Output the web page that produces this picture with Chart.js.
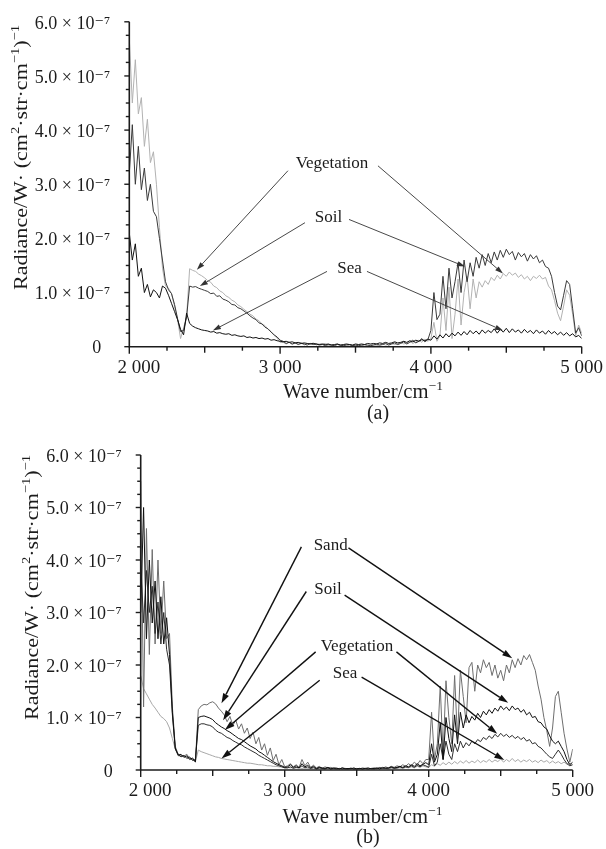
<!DOCTYPE html>
<html><head><meta charset="utf-8">
<script src="https://cdn.jsdelivr.net/npm/chart.js@4.4.1/dist/chart.umd.min.js"></script>
<style>
html,body{margin:0;padding:0;background:#fff;}
#wrapA{position:absolute;left:0;top:0;width:606px;height:424px;}
#wrapB{position:absolute;left:0;top:424px;width:606px;height:425px;}
canvas{display:block;}
</style></head><body>
<div id="wrapA"><canvas id="cA" width="606" height="424"></canvas></div>
<div id="wrapB"><canvas id="cB" width="606" height="425"></canvas></div>
<script>
// Wave numbers (cm^-1), sampled every 20 cm^-1 from 2000 to 5000
const WAVENUMBERS = Array.from({length:151},(_,i)=>2000+20*i);
const X_TICKS = [2000,3000,4000,5000];
// Radiance values in units of 1e-7 W/(cm2·str·cm-1)
// Panel (a)
const VEG_A = [5.7,4.5,5.3,4.3,4.6,3.7,4.2,3.4,3.6,3.0,2.2,1.45,1.12,
 1.08,0.98,0.75,0.5,0.15,0.35,0.55,
 1.44,1.41,1.39,1.34,1.31,1.27,1.22,1.19,1.12,1.09,1.03,1.0,0.94,0.91,0.86,0.83,0.77,0.74,0.69,0.65,0.6,0.57,0.51,0.48,0.42,0.39,0.32,0.28,0.21,0.16,0.08,
 0.08,0.05,0.09,0.04,0.07,0.06,0.08,0.03,0.06,0.05, 0.07,0.03,0.05,0.04,0.06,0.02,0.04,0.03,0.05,0.02, 0.03,0.04,0.02,0.03,0.02,0.04,0.02,0.03,0.02,0.03, 0.04,0.02,0.03,0.05,0.03,0.04,0.06,0.04,0.05,0.08, 0.05,0.07,0.1,0.06,0.09,0.12,0.08,0.14,0.1,
 0.15,0.45,0.1,0.2,0.9,0.3,1.1,0.15,0.6,1.25, 0.4,1.0,1.3,0.7,1.25,0.9,1.2,1.1,1.22,1.15, 1.28,1.22,1.32,1.25,1.35,1.3,1.38,1.32,1.36,1.28, 1.33,1.25,1.3,1.22,1.3,1.26,1.32,1.25,1.28,1.12, 1.05,0.85,0.62,0.48,0.75,1.05,0.95,0.6,0.2,0.4, 0.25];
const SOIL_A = [3.2,4.1,3.0,3.7,2.9,3.3,2.7,3.0,2.5,2.4,2.0,1.6,1.2,
 1.05,0.98,0.78,0.52,0.28,0.3,0.55,
 1.12,1.10,1.11,1.08,1.06,1.04,1.02,0.98,0.99,0.93,0.94,0.88,0.86,0.83,0.78,0.77,0.72,0.70,0.66,0.62,0.57,0.53,0.50,0.44,0.42,0.36,0.33,0.27,0.22,0.18,0.12,
 0.1,0.06,0.08,0.05,0.07,0.04,0.06,0.05,0.03,0.06, 0.04,0.05,0.03,0.04,0.02,0.04,0.03,0.02,0.04,0.03, 0.02,0.03,0.04,0.02,0.03,0.02,0.03,0.04,0.03,0.02, 0.03,0.05,0.03,0.04,0.06,0.03,0.05,0.07,0.04,0.06, 0.09,0.05,0.08,0.12,0.07,0.1,0.15,0.09,0.13,
 0.3,1.0,0.5,0.6,1.3,0.7,1.45,0.9,1.2,1.55, 1.0,1.6,1.2,1.55,1.3,1.65,1.45,1.7,1.5,1.72, 1.55,1.75,1.6,1.78,1.65,1.8,1.7,1.76,1.6,1.74, 1.66,1.72,1.58,1.7,1.62,1.68,1.55,1.6,1.48,1.45, 1.3,1.0,0.75,0.68,0.95,1.22,1.15,0.7,0.25,0.35, 0.2];
const SEA_A = [2.1,1.6,1.9,1.3,1.45,1.0,1.15,0.92,1.05,1.0,0.9,1.12,1.08,
 0.95,0.8,0.65,0.5,0.32,0.22,0.62,
 0.43,0.38,0.35,0.33,0.31,0.30,0.29,0.27,0.28,0.25,0.26,0.24,0.23,0.24,0.21,0.22,0.2,0.19,0.2,0.17,0.18,0.16,0.17,0.15,0.16,0.14,0.15,0.12,0.13,0.11,0.1,
 0.09,0.1,0.08,0.09,0.07,0.08,0.06,0.07,0.06,0.05, 0.06,0.05,0.04,0.05,0.04,0.05,0.03,0.04,0.05,0.03, 0.04,0.05,0.04,0.03,0.05,0.04,0.05,0.04,0.06,0.05, 0.06,0.05,0.07,0.06,0.08,0.06,0.07,0.09,0.07,0.08, 0.1,0.08,0.11,0.09,0.12,0.1,0.13,0.11,0.14,
 0.12,0.2,0.14,0.22,0.16,0.24,0.18,0.25,0.2,0.27, 0.21,0.28,0.22,0.3,0.24,0.29,0.23,0.31,0.25,0.3, 0.26,0.33,0.25,0.32,0.27,0.34,0.26,0.33,0.27,0.31, 0.25,0.32,0.26,0.3,0.24,0.31,0.25,0.29,0.23,0.3, 0.24,0.28,0.22,0.27,0.21,0.26,0.2,0.24,0.18,0.21, 0.15];
// Panel (b)
const SAND_B = [5.5,1.2,4.6,2.2,4.2,2.4,4.0,2.6,3.6,2.5,2.6,1.2,0.45,
 0.3,0.28,0.26,0.3,0.22,0.2,0.18,
 1.15,1.22,1.25,1.24,1.28,1.3,1.26,1.18,1.12,1.05,0.92,1.02,0.85,0.95,0.78,0.88,0.7,0.8,0.6,0.72,0.5,0.62,0.38,0.5,0.28,0.42,0.18,0.3,0.1,0.2,0.06,
 0.08,0.12,0.06,0.1,0.05,0.2,0.08,0.15,0.05,0.09, 0.04,0.07,0.03,0.06,0.04,0.05,0.03,0.04,0.02,0.04, 0.03,0.02,0.04,0.02,0.03,0.02,0.04,0.03,0.02,0.03, 0.04,0.02,0.05,0.03,0.06,0.04,0.07,0.05,0.08,0.06, 0.1,0.07,0.12,0.08,0.15,0.1,0.18,0.12,0.2,
 0.2,1.1,0.2,0.5,1.6,0.3,1.7,1.0,0.5,1.8, 0.6,1.9,1.4,0.9,1.95,2.05,1.5,2.0,1.85,2.1, 1.95,2.05,1.8,2.0,1.75,1.9,1.7,2.0,1.85,2.1, 1.95,2.12,2.0,2.18,2.1,2.2,2.05,1.9,1.6,1.35, 1.0,0.75,0.45,0.8,1.4,1.5,1.1,0.7,0.4,0.15, 0.4];
const SOIL_B = [3.0,5.0,2.5,4.0,2.8,3.6,2.5,3.3,2.4,2.9,2.2,1.1,0.42,
 0.28,0.3,0.24,0.27,0.2,0.23,0.15,
 1.0,1.02,1.03,1.01,0.99,0.96,0.9,0.86,0.82,0.79,0.75,0.72,0.68,0.64,0.6,0.58,0.54,0.5,0.46,0.43,0.4,0.35,0.32,0.28,0.24,0.2,0.16,0.13,0.1,0.08,0.05,
 0.06,0.1,0.05,0.08,0.04,0.12,0.06,0.09,0.04,0.07, 0.03,0.05,0.04,0.03,0.05,0.02,0.04,0.03,0.02,0.04, 0.02,0.03,0.02,0.04,0.02,0.03,0.02,0.03,0.04,0.02, 0.03,0.04,0.02,0.05,0.03,0.04,0.06,0.04,0.05,0.07, 0.05,0.08,0.06,0.1,0.07,0.12,0.08,0.11,0.14,
 0.1,0.5,0.15,0.3,0.9,0.2,1.0,0.6,0.35,1.05, 0.5,1.1,0.8,1.05,0.9,1.02,0.95,1.08,1.0,1.12, 1.05,1.15,1.08,1.18,1.12,1.22,1.15,1.2,1.13,1.22, 1.15,1.18,1.1,1.15,1.05,1.1,1.0,1.02,0.92,0.9, 0.82,0.78,0.65,0.55,0.5,0.55,0.45,0.35,0.2,0.1, 0.15];
const VEG_B = [4.0,2.8,3.8,3.0,3.5,2.6,3.2,2.4,3.0,2.3,2.0,1.05,0.4,
 0.3,0.25,0.28,0.22,0.25,0.18,0.2,
 0.85,0.88,0.88,0.86,0.85,0.82,0.76,0.72,0.7,0.66,0.62,0.6,0.56,0.53,0.5,0.48,0.44,0.41,0.38,0.35,0.32,0.28,0.25,0.22,0.19,0.16,0.13,0.1,0.08,0.06,0.04,
 0.04,0.06,0.03,0.05,0.04,0.08,0.04,0.06,0.03,0.05, 0.02,0.04,0.03,0.02,0.04,0.02,0.03,0.02,0.03,0.02, 0.03,0.02,0.03,0.02,0.02,0.03,0.02,0.03,0.02,0.03, 0.02,0.03,0.04,0.03,0.04,0.03,0.05,0.03,0.04,0.06, 0.04,0.06,0.05,0.08,0.05,0.09,0.06,0.1,0.08,
 0.05,0.3,0.08,0.15,0.5,0.2,0.55,0.3,0.2,0.5, 0.35,0.55,0.42,0.52,0.46,0.55,0.5,0.58,0.54,0.62, 0.58,0.65,0.6,0.68,0.63,0.7,0.64,0.68,0.62,0.66, 0.6,0.64,0.58,0.62,0.55,0.58,0.5,0.52,0.45,0.42, 0.36,0.3,0.25,0.22,0.3,0.38,0.3,0.2,0.12,0.08, 0.1];
const SEA_B = [1.8,1.55,1.45,1.35,1.25,1.18,1.1,1.02,0.98,0.92,0.8,0.6,0.4,
 0.27,0.26,0.28,0.24,0.22,0.2,0.16,
 0.38,0.35,0.33,0.31,0.29,0.27,0.25,0.24,0.22,0.21,0.2,0.19,0.18,0.17,0.16,0.15,0.14,0.13,0.13,0.12,0.11,0.1,0.1,0.09,0.08,0.08,0.07,0.07,0.06,0.06,0.05,
 0.05,0.04,0.05,0.04,0.04,0.03,0.04,0.03,0.03,0.03, 0.02,0.03,0.02,0.02,0.03,0.02,0.02,0.02,0.03,0.02, 0.02,0.02,0.03,0.02,0.02,0.02,0.03,0.02,0.02,0.03, 0.02,0.03,0.02,0.03,0.03,0.02,0.03,0.04,0.03,0.04, 0.03,0.05,0.04,0.06,0.04,0.07,0.05,0.08,0.06,
 0.05,0.1,0.07,0.12,0.09,0.14,0.1,0.15,0.11,0.16, 0.12,0.17,0.13,0.18,0.13,0.17,0.14,0.19,0.14,0.18, 0.15,0.2,0.15,0.19,0.16,0.21,0.15,0.2,0.16,0.22, 0.16,0.2,0.15,0.19,0.16,0.2,0.15,0.18,0.14,0.19, 0.15,0.18,0.13,0.17,0.13,0.16,0.12,0.15,0.11,0.13, 0.1];

// Annotations (positions in data units)
const ANNOT_A = [
 {text:'Vegetation', at:[3344,3.38], lines:[[[3052,3.25],[2448,1.42]], [[3649,3.34],[4478,1.35]]]},
 {text:'Soil', at:[3321,2.38], lines:[[[3165,2.29],[2468,1.12]], [[3457,2.35],[4226,1.48]]]},
 {text:'Sea', at:[3460,1.44], lines:[[[3311,1.39],[2554,0.30]], [[3576,1.39],[4478,0.30]]]}
];
const ANNOT_B = [
 {text:'Sand', at:[3319,4.27], lines:[[[3116,4.25],[2561,1.27]], [[3443,4.23],[4580,2.13]]]},
 {text:'Soil', at:[3301,3.43], lines:[[[3150,3.40],[2572,0.95]], [[3416,3.33],[4552,1.28]]]},
 {text:'Vegetation', at:[3502,2.35], lines:[[[3215,2.25],[2584,0.76]], [[3776,2.25],[4476,0.69]]]},
 {text:'Sea', at:[3419,1.84], lines:[[[3243,1.71],[2561,0.22]], [[3534,1.77],[4525,0.19]]]}
];

const FONT = "'Liberation Serif','DejaVu Serif',serif";
const INK = '#1c1c1c';

function pts(arr){ return arr.map((v,i)=>({x:WAVENUMBERS[i], y:v})); }

function drawRich(ctx, parts, size, targetW){
  const supSize = size*0.66, rise = size*0.42;
  let w = 0;
  const widths = parts.map(([t,s])=>{ctx.font = (s?supSize:size)+'px '+FONT; const m = ctx.measureText(t).width; w += m; return m;});
  const k = targetW ? targetW/w : 1;
  ctx.save();
  ctx.scale(k,1);
  let x = -w/2;
  ctx.textAlign='left'; ctx.textBaseline='alphabetic';
  parts.forEach(([t,s],i)=>{
    ctx.font = (s?supSize:size)+'px '+FONT;
    ctx.fillText(t, x, s? -rise : 0);
    x += widths[i];
  });
  ctx.restore();
}

function arrow(ctx, x0,y0,x1,y1, len, half){
  ctx.beginPath(); ctx.moveTo(x0,y0);
  const a = Math.atan2(y1-y0,x1-x0);
  const bx = x1 - len*Math.cos(a), by = y1 - len*Math.sin(a);
  ctx.lineTo(bx,by); ctx.stroke();
  ctx.beginPath();
  ctx.moveTo(x1,y1);
  ctx.lineTo(bx + half*Math.sin(a), by - half*Math.cos(a));
  ctx.lineTo(bx - half*Math.sin(a), by + half*Math.cos(a));
  ctx.closePath(); ctx.fill();
}

function makeChart(id, datasets, geom, annots, cap, arrowStyle){
  const deco = {
    id:'deco',
    afterDraw(chart){
      const ctx = chart.ctx, xs = chart.scales.x, ys = chart.scales.y;
      const L = xs.left, R = xs.right, B = ys.bottom, T = ys.top;
      ctx.save();
      ctx.strokeStyle = INK; ctx.fillStyle = INK;
      ctx.lineWidth = 1.6;
      ctx.beginPath(); ctx.moveTo(L, T); ctx.lineTo(L, B); ctx.lineTo(R, B); ctx.stroke();
      ctx.lineWidth = 1.4;
      for(let v=2000; v<=5000; v+=250){
        const p = xs.getPixelForValue(v);
        const len = v%1000===0 ? 7 : (v%500===0 ? 6 : 4);
        ctx.beginPath(); ctx.moveTo(p,B); ctx.lineTo(p,B+len); ctx.stroke();
      }
      for(let v=0; v<=6.001; v+=0.25){
        const p = ys.getPixelForValue(v);
        const len = Math.abs(v-Math.round(v))<1e-6 ? 5 : 3.5;
        ctx.beginPath(); ctx.moveTo(L,p); ctx.lineTo(L-len,p); ctx.stroke();
      }
      ctx.lineWidth = arrowStyle.w; ctx.strokeStyle = arrowStyle.c; ctx.fillStyle = arrowStyle.c;
      annots.forEach(a=>{
        a.lines.forEach(([s,t])=>{
          arrow(ctx, xs.getPixelForValue(s[0]), ys.getPixelForValue(s[1]), xs.getPixelForValue(t[0]), ys.getPixelForValue(t[1]), arrowStyle.len, arrowStyle.half);
        });
      });
      ctx.fillStyle = INK;
      ctx.font = '17px '+FONT; ctx.textAlign='center'; ctx.textBaseline='middle';
      annots.forEach(a=>{
        ctx.fillText(a.text, xs.getPixelForValue(a.at[0]), ys.getPixelForValue(a.at[1]));
      });
      ctx.save(); ctx.translate(geom.xtX, geom.xtY);
      drawRich(ctx, [['Wave number/cm',false],['\u22121',true]], 20, 160);
      ctx.restore();
      ctx.font = '20px '+FONT; ctx.textAlign='center'; ctx.textBaseline='alphabetic';
      ctx.fillText(cap, geom.capX, geom.capY);
      ctx.save(); ctx.translate(geom.ytX, geom.ytY); ctx.rotate(-Math.PI/2);
      drawRich(ctx, [['Radiance/W\u00b7 (cm',false],['2',true],['\u00b7str\u00b7cm',false],['\u22121',true],[')',false],['\u22121',true]], 19, 265);
      ctx.restore();
      ctx.restore();
    }
  };
  return new Chart(document.getElementById(id), {
    type:'line',
    data:{datasets: datasets.map(d=>({data:pts(d.data), borderColor:d.color, borderWidth:d.w||1, pointRadius:0, tension:0, fill:false}))},
    options:{
      responsive:false, animation:false, devicePixelRatio:1,
      layout:{padding:{left:0, top:geom.top, right:606-geom.right, bottom:0}},
      plugins:{legend:{display:false}, tooltip:{enabled:false}},
      scales:{
        x:{type:'linear', min:2000, max:5000,
           grid:{display:false}, border:{display:false},
           afterFit(s){ s.height = geom.h - geom.bottom; },
           afterBuildTicks(s){ s.ticks = X_TICKS.map(v=>({value:v})); },
           ticks:{autoSkip:false, maxRotation:0, padding:geom.xpad, color:INK,
             font:{family:FONT, size:19},
             callback(v){ const s = (v/1000)+' 000'; return v===2000 ? '\u2002\u2002'+s : s; }}},
        y:{type:'linear', min:0, max:6,
           grid:{display:false}, border:{display:false},
           afterFit(s){ s.width = geom.left; },
           afterBuildTicks(s){ const t=[]; for(let v=0; v<=6; v++) t.push({value:v}); s.ticks=t; },
           ticks:{autoSkip:false, padding:11, color:INK, labelOffset:2,
             font:{family:FONT, size:18},
             callback(v){ return v===0 ? '0\u2002' : v.toFixed(1)+' \u00d7 10\u207b\u2077'; }}}
      }
    },
    plugins:[deco]
  });
}

makeChart('cA', [
  {data:SEA_A, color:'#111111'},
  {data:SOIL_A, color:'#3a3a3a'},
  {data:VEG_A, color:'#b2b2b2'}
], {left:129.3, right:581.7, top:15, bottom:346.7, h:424, xpad:2,
    xtX:363, xtY:398, capX:378, capY:419, ytX:27, ytY:157.5}, ANNOT_A, '(a)',
   {w:0.9, c:'#333', len:8, half:2.6});

makeChart('cB', [
  {data:SOIL_B, color:'#111111'},
  {data:VEG_B, color:'#2e2e2e'},
  {data:SAND_B, color:'#6e6e6e'},
  {data:SEA_B, color:'#a8a8a8'}
], {left:140.7, right:572.7, top:31, bottom:346, h:425, xpad:2,
    xtX:362.5, xtY:399, capX:368, capY:419, ytX:38, ytY:163.5}, ANNOT_B, '(b)',
   {w:1.4, c:'#111', len:10, half:3.2});
</script>
</body></html>
